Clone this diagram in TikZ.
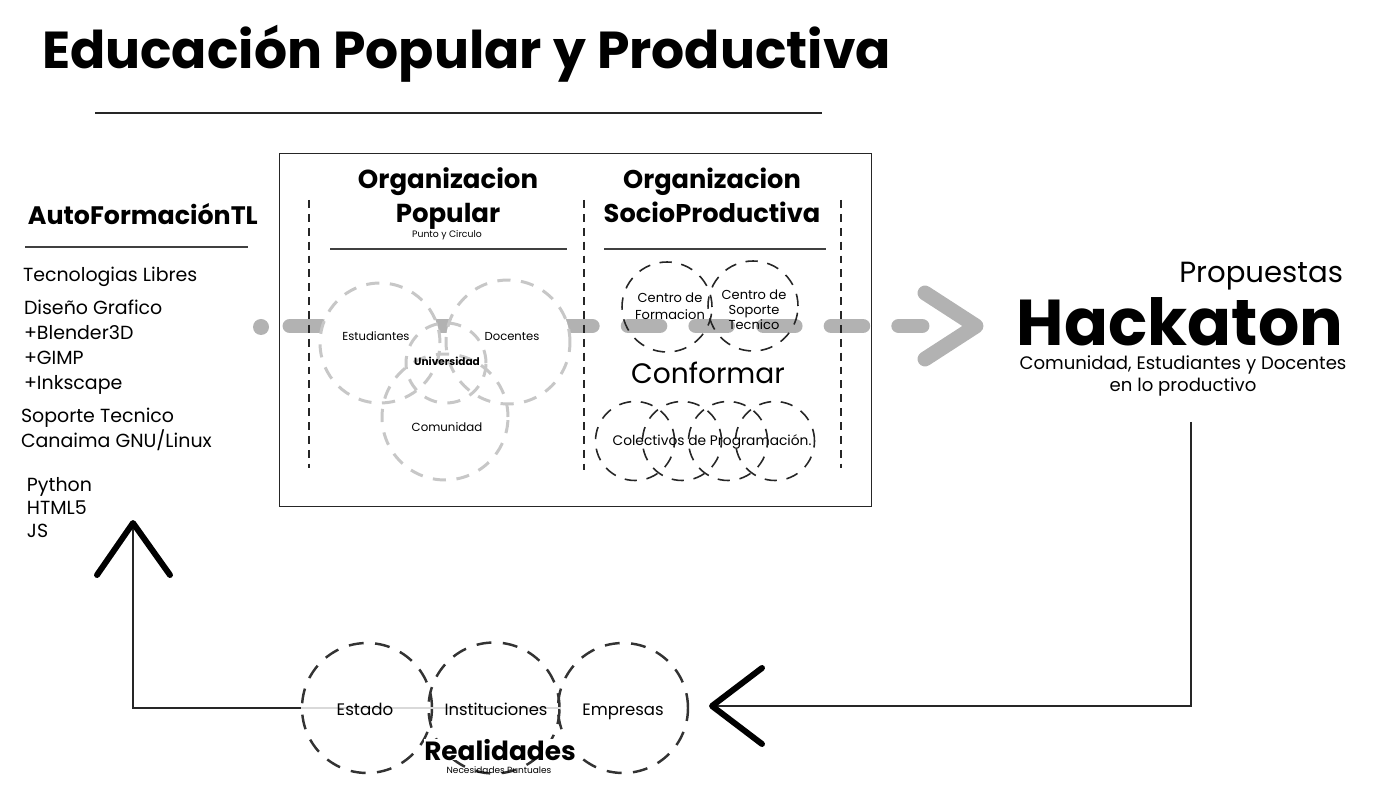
\documentclass[tikz,border=0pt]{standalone}
\usepackage{fontspec}
\setmainfont{Poppins}
\usetikzlibrary{shapes,arrows,positioning,backgrounds,calc}

\newcommand{\sz}[1]{\fontsize{#1}{1.2\dimexpr #1pt\relax}\selectfont}

\tikzset{
  txt/.style={inner sep=0pt, outer sep=0pt, anchor=base},
  lst/.style={txt, anchor=base west, font=\sz{10.8}},
  gcirc/.style={circle, draw=black!22, line width=1.7pt, dash pattern=on 7.5pt off 6pt, inner sep=0pt},
  bcirc/.style={circle, draw=black!85, line width=0.9pt, dash pattern=on 7pt off 5.5pt, inner sep=0pt},
  rcirc/.style={circle, draw=black!80, line width=1.4pt, dash pattern=on 8.5pt off 6.5pt, inner sep=0pt},
  sepline/.style={black!85, line width=0.6pt, dash pattern=on 4.5pt off 3.4pt},
  rule/.style={black!75, line width=0.7pt},
  flow/.style={black!30, line width=8.5pt, line cap=round, line join=round},
  bigtip/.style={black, line width=3.4pt, line cap=round, line join=round},
  thinline/.style={black!85, line width=0.6pt},
}

\begin{document}
\begin{tikzpicture}[x=0.02cm,y=-0.02cm]
\useasboundingbox (0,0) rectangle (1382,786);

% titulo
\node[txt, anchor=base west, font=\sz{29.6}\bfseries] (titulo) at (42,69) {Educación Popular y Productiva};
\draw[thinline, line width=0.8pt] (95,113) -- (822,113);

% columna izquierda
\node[txt, anchor=base west, font=\sz{14.4}\bfseries] (auto) at (28,225) {AutoFormaciónTL};
\draw[rule] (25,247) -- (248,247);
\foreach \t/\x/\y [count=\i] in {Tecnologias Libres/23/282, Diseño Grafico/24/315, +Blender3D/24/340,
  +GIMP/24/365, +Inkscape/24/390, Soporte Tecnico/21/423, Canaima GNU\slash Linux/21/448,
  Python/27/492, HTML5/27/515, JS/27/538}
  \node[lst] (item\i) at (\x,\y) {\t};

% recuadro central
\node[draw=black!85, line width=0.6pt, minimum width=11.86cm, minimum height=7.08cm] (caja) at (575.5,330) {};
\draw[sepline] (309,200) -- (309,468);
\draw[sepline] (584,200) -- (584,470);
\draw[sepline] (841,200) -- (841,468);

\node[txt, font=\sz{14.8}\bfseries] (orgA) at (448,189) {Organizacion};
\node[txt, font=\sz{14.8}\bfseries] (orgA2) at (448,223) {Popular};
\node[txt, font=\sz{5.3}] (punto) at (447,238) {Punto y Circulo};
\draw[rule] (330,249) -- (567,249);

\node[txt, font=\sz{14.6}\bfseries] (orgB) at (712,189) {Organizacion};
\node[txt, font=\sz{14.6}\bfseries] (orgB2) at (712,223) {SocioProductiva};
\draw[rule] (604,249) -- (826,249);

% punto y circulo
\node[gcirc, minimum size=2.4cm] (est) at (380,343) {};
\node[gcirc, minimum size=2.48cm] (doc) at (508,342) {};
\node[gcirc, minimum size=2.52cm] (com) at (445,417) {};
\node[gcirc, minimum size=1.6cm] (uni) at (446,363) {};
\node[txt, font=\sz{6.6}] (estT) at (376,341) {Estudiantes};
\node[txt, font=\sz{6.6}] (docT) at (512,341) {Docentes};
\node[txt, font=\sz{6}\bfseries] (uniT) at (447,366) {Universidad};
\node[txt, font=\sz{6.7}] (comT) at (447,432) {Comunidad};

% socioproductiva
\node[bcirc, minimum size=1.8cm] (form) at (667,307) {};
\node[bcirc, minimum size=1.8cm] (sop) at (753,306) {};
\node[txt, font=\sz{7.4}] (formT) at (670,303) {Centro de};
\node[txt, font=\sz{7.4}] (formT2) at (670,320) {Formacion};
\node[txt, font=\sz{7.4}] (sopT) at (754,300) {Centro de};
\node[txt, font=\sz{7.4}] (sopT2) at (754,315) {Soporte};
\node[txt, font=\sz{7.4}] (sopT3) at (754,330) {Tecnico};
\node[txt, font=\sz{16}] (conf) at (708,384) {Conformar};
\foreach \x [count=\i] in {635,682,728,775}
  \node[bcirc, minimum size=1.58cm] (col\i) at (\x,441) {};
\node[txt, font=\sz{7.85}] (colT) at (712,446) {Colectivos de Programación.};

% flujo gris
\begin{scope}[on background layer]
\fill[black!30] (261,327) circle (8);
\coordinate (fluA) at (290,326);
\coordinate (fluB) at (922,326);
\coordinate (fluP) at (976,326);
\draw[flow, dash pattern=on 18pt off 20.5pt] (fluA) -- (fluB);
\draw[flow] ($(fluP)+(-51,-33)$) -- (fluP) -- ++(-51,33);
\fill[white] (est) circle (60) (doc) circle (62);
\end{scope}

% hackaton
\node[txt, anchor=base east, font=\sz{16.6}] (prop) at (1343,283) {Propuestas};
\node[txt, anchor=base east, font=\sz{36.9}\bfseries] (hack) at (1343,346) {Hackaton};
\node[txt, font=\sz{10.3}] (hackT) at (1183,370) {Comunidad, Estudiantes y Docentes};
\node[txt, font=\sz{10.3}] (hackT2) at (1183,392) {en lo productivo};
\coordinate (bajaR) at (1191,422);
\coordinate (esq) at (1191,706);
\coordinate (puntaR) at (712,706);
\draw[thinline] (bajaR) -- (esq) -- (puntaR);
\draw[bigtip] ($(puntaR)+(50,-38)$) -- (puntaR) -- ++(50,38);

% realidades
\node[rcirc, minimum size=2.6cm] (estado) at (367,708) {};
\node[rcirc, minimum size=2.62cm] (inst) at (494,708) {};
\node[rcirc, minimum size=2.6cm] (emp) at (623,708) {};
\draw[black!15, line width=0.6pt] (estado.west) -- (inst.east);
\node[txt, font=\sz{9.5}] (estadoT) at (365,715) {Estado};
\node[txt, font=\sz{9.3}] (instT) at (496,715) {Instituciones};
\node[txt, font=\sz{9.4}] (empT) at (623,715) {Empresas};
\node[txt, fill=white, inner sep=0pt, font=\sz{15}\bfseries] (real) at (500,760) {Realidades};
\node[txt, font=\sz{5.1}] (nec) at (499,773) {Necesidades Puntuales};

\coordinate (puntaL) at (133,523);
\coordinate (esqL) at (133,708);
\draw[thinline] (estado.west) -- (esqL) -- (puntaL);
\draw[bigtip] ($(puntaL)+(-36,52)$) -- (puntaL) -- ++(37,52);
\end{tikzpicture}
\end{document}
